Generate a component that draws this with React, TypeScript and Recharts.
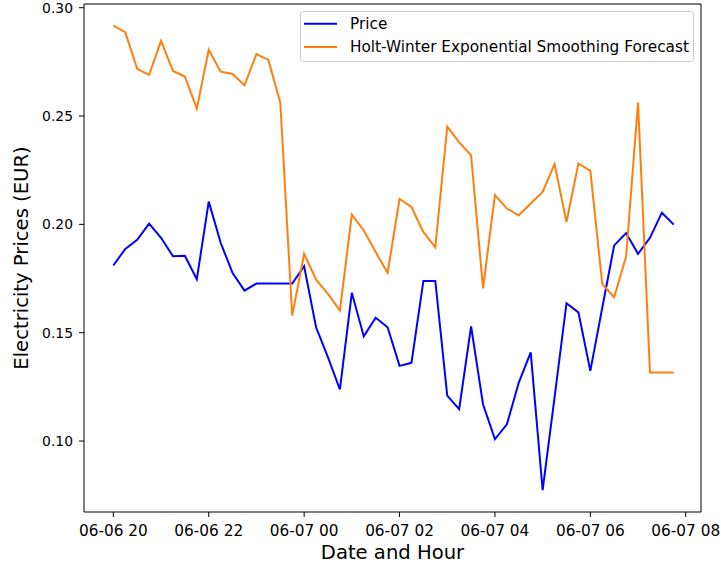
import React from 'react';
import { LineChart, Line, XAxis, YAxis, ReferenceArea, Legend } from 'recharts';

const FONT = '"DejaVu Sans", sans-serif';

const timeLabels = [
  '06-06 20:00', '06-06 20:15', '06-06 20:30', '06-06 20:45',
  '06-06 21:00', '06-06 21:15', '06-06 21:30', '06-06 21:45',
  '06-06 22:00', '06-06 22:15', '06-06 22:30', '06-06 22:45',
  '06-06 23:00', '06-06 23:15', '06-06 23:30', '06-06 23:45',
  '06-07 00:00', '06-07 00:15', '06-07 00:30', '06-07 00:45',
  '06-07 01:00', '06-07 01:15', '06-07 01:30', '06-07 01:45',
  '06-07 02:00', '06-07 02:15', '06-07 02:30', '06-07 02:45',
  '06-07 03:00', '06-07 03:15', '06-07 03:30', '06-07 03:45',
  '06-07 04:00', '06-07 04:15', '06-07 04:30', '06-07 04:45',
  '06-07 05:00', '06-07 05:15', '06-07 05:30', '06-07 05:45',
  '06-07 06:00', '06-07 06:15', '06-07 06:30', '06-07 06:45',
  '06-07 07:00', '06-07 07:15', '06-07 07:30', '06-07 07:45',
];

const priceValues = [
  0.1810, 0.1887, 0.1929, 0.2003, 0.1938, 0.1853, 0.1855, 0.1747,
  0.2105, 0.1915, 0.1775, 0.1694, 0.1727, 0.1727, 0.1727, 0.1727,
  0.1807, 0.1525, 0.1386, 0.1238, 0.1684, 0.1483, 0.1569, 0.1525,
  0.1347, 0.1361, 0.1739, 0.1739, 0.1210, 0.1147, 0.1529, 0.1170,
  0.1008, 0.1077, 0.1270, 0.1409, 0.0773, 0.1201, 0.1636, 0.1594,
  0.1324, 0.1615, 0.1903, 0.1960, 0.1864, 0.1938, 0.2054, 0.1999,
];

const forecastValues = [
  0.2917, 0.2887, 0.2718, 0.2690, 0.2847, 0.2708, 0.2682, 0.2534,
  0.2806, 0.2705, 0.2694, 0.2642, 0.2786, 0.2759, 0.2562, 0.1579,
  0.1864, 0.1745, 0.1679, 0.1602, 0.2045, 0.1972, 0.1872, 0.1776,
  0.2117, 0.2080, 0.1964, 0.1895, 0.2451, 0.2378, 0.2319, 0.1705,
  0.2135, 0.2073, 0.2042, 0.2096, 0.2150, 0.2278, 0.2011, 0.2281,
  0.2247, 0.1725, 0.1664, 0.1852, 0.2562, 0.1316, 0.1316, 0.1316,
];

const xTickLabels = ['06-06 20', '06-06 22', '06-07 00', '06-07 02', '06-07 04', '06-07 06', '06-07 08'];
const yTickValues = [0.10, 0.15, 0.20, 0.25, 0.30];

const X_DOMAIN: [number, number] = [-36.9, 739.2];
const Y_DOMAIN: [number, number] = [0.06725, 0.30171];

function toMinutes(label: string): number {
  const [date, time] = label.split(' ');
  const day = Number(date.split('-')[1]);
  const [h, m] = time.split(':').map(Number);
  return (day - 6) * 1440 + h * 60 + m - 1200;
}

const xTicks = xTickLabels.map((l) => toMinutes(l + ':00'));

const data = timeLabels.map((t, i) => ({
  t: toMinutes(t),
  price: priceValues[i],
  forecast: forecastValues[i],
}));

const seriesInfo = [
  { name: 'Price', color: '#0000ff' },
  { name: 'Holt-Winter Exponential Smoothing Forecast', color: '#ff7f0e' },
];

const LegendBox = () => (
  <svg width={394} height={51} style={{ display: 'block' }}>
    <rect x={0.5} y={0.5} width={393} height={50} rx={3} ry={3} fill="rgba(255,255,255,0.8)" stroke="#cccccc" strokeWidth={1} />
    {seriesInfo.map((s, i) => (
      <g key={s.name}>
        <line x1={4} x2={37} y1={12.8 + i * 23.2} y2={12.8 + i * 23.2} stroke={s.color} strokeWidth={2} />
        <text x={50} y={12.8 + i * 23.2} dominantBaseline="central" fontFamily={FONT} fontSize={15.3} fill="#000">
          {s.name}
        </text>
      </g>
    ))}
  </svg>
);

export default function App() {
  return (
    <div style={{ position: 'absolute', left: 0, top: 0, background: '#fff' }}>
      <LineChart width={721} height={570} data={data} margin={{ top: 4, right: 20, bottom: 0, left: 0 }}>
        <XAxis
          dataKey="t"
          type="number"
          domain={X_DOMAIN}
          allowDataOverflow
          ticks={xTicks}
          interval={0}
          tickFormatter={(v: number) => xTickLabels[xTicks.indexOf(v)] ?? ''}
          height={58}
          axisLine={false}
          tickLine={{ stroke: '#000', strokeWidth: 1 }}
          tickSize={5}
          tickMargin={8}
          tick={{ fill: '#000', fontSize: 15.3, fontFamily: FONT }}
          label={{
            content: () => (
              <text x={392.5} y={559} textAnchor="middle" fontFamily={FONT} fontSize={19.6} fill="#000">
                Date and Hour
              </text>
            ),
          }}
        />
        <YAxis
          type="number"
          domain={Y_DOMAIN}
          allowDataOverflow
          ticks={yTickValues}
          interval={0}
          tickFormatter={(v: number) => v.toFixed(2)}
          width={84}
          axisLine={false}
          tickLine={{ stroke: '#000', strokeWidth: 1 }}
          tickSize={5}
          tickMargin={6}
          tick={{ fill: '#000', fontSize: 13.9, fontFamily: FONT }}
          label={{
            content: () => (
              <text x={28} y={258} transform="rotate(-90 28 258)" textAnchor="middle" fontFamily={FONT} fontSize={19.6} fill="#000">
                Electricity Prices (EUR)
              </text>
            ),
          }}
        />
        <Line type="linear" dataKey="price" name="Price" stroke="#0000ff" strokeWidth={2} dot={false} activeDot={false} isAnimationActive={false} />
        <Line type="linear" dataKey="forecast" name="Holt-Winter Exponential Smoothing Forecast" stroke="#ff7f0e" strokeWidth={2} dot={false} activeDot={false} isAnimationActive={false} />
        <ReferenceArea x1={X_DOMAIN[0]} x2={X_DOMAIN[1]} y1={Y_DOMAIN[0]} y2={Y_DOMAIN[1]} fill="none" fillOpacity={0} stroke="#000" strokeWidth={1} ifOverflow="visible" />
        <Legend
          layout="horizontal"
          verticalAlign="middle"
          align="center"
          content={() => <LegendBox />}
          wrapperStyle={{ left: 300, top: 11, width: 394, height: 51 }}
        />
      </LineChart>
    </div>
  );
}
